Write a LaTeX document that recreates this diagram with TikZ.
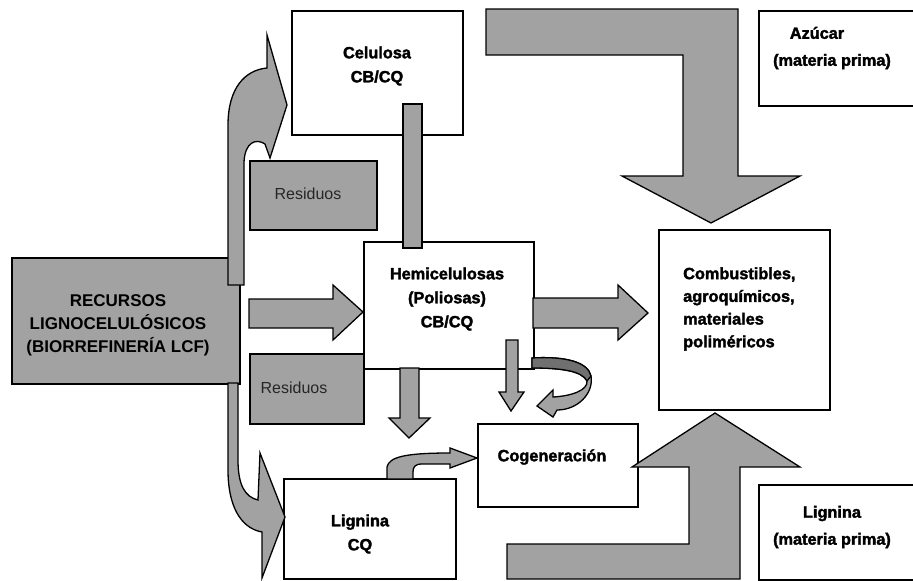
\documentclass[tikz,border=0pt]{standalone}
\usepackage{fontspec}
\setmainfont{Liberation Sans}
\newfontfamily\heavyfont[FakeBold=2]{Liberation Sans Bold}
\definecolor{fillgray}{RGB}{162,162,162}
\definecolor{shadegray}{RGB}{112,112,112}
\begin{document}
\begin{tikzpicture}[x=1pt,y=-1pt,
  box/.style={draw=black, line width=1.6pt, fill=white, inner sep=0pt, anchor=north west},
  graybox/.style={box, fill=fillgray},
  blockarrow/.style={draw=black, line width=1.3pt, fill=fillgray, line join=miter},
  heavy/.style={font=\fontsize{16.3}{24}\selectfont\heavyfont, align=center, inner sep=0pt},
  plain/.style={font=\fontsize{16}{20}\selectfont, text=black!85, inner sep=0pt}]

\useasboundingbox (0,0) rectangle (913,581);
\clip (0,0) rectangle (913,581);

% ---------- boxes ----------
\node[box, minimum width=171pt, minimum height=124pt] (cel) at (291,10) {};
\node[box, minimum width=170pt, minimum height=127pt] (hemi) at (363,241) {};
\node[box, minimum width=172pt, minimum height=100pt] (lig) at (283,478) {};
\node[box, minimum width=160pt, minimum height=83pt] (cogen) at (477,423) {};
\node[box, minimum width=171pt, minimum height=180pt] (prod) at (658,229) {};
\node[box, minimum width=170pt, minimum height=95pt] (azu) at (758,10) {};
\node[box, minimum width=170pt, minimum height=95pt] (ligmp) at (758,484) {};
\node[graybox, minimum width=228pt, minimum height=126pt] (rec) at (11,257) {};

% ---------- curved arrows leaving the resources box ----------
\path[blockarrow] (228,285) -- (228,125)
  .. controls (228,88) and (245,70) .. (267,68) -- (267,35) -- (287,105) -- (270,158)
  -- (265,144) .. controls (256,138) and (245,142) .. (244,162) -- (244,285) -- cycle;
\path[blockarrow] (228,383) -- (228,470)
  .. controls (228,505) and (240,528) .. (262,532) -- (262,578) -- (285,517) -- (260,453)
  -- (258,500) .. controls (245,497) and (238,485) .. (238,460) -- (238,383) -- cycle;

\node[graybox, minimum width=127pt, minimum height=69pt] (res1) at (249,160) {};
\node[graybox, minimum width=114pt, minimum height=70pt] (res2) at (249,353) {};

% ---------- straight block arrows ----------
\path[blockarrow] (403,104) rectangle (422,248);
\path[blockarrow] (249,299) -- (333,299) -- (333,285) -- (363,312) -- (333,340)
  -- (333,328) -- (249,328) -- cycle;
\path[blockarrow] (533,298) -- (618,298) -- (618,285) -- (648,313) -- (618,340)
  -- (618,328) -- (533,328) -- cycle;
\path[blockarrow] (400,368) -- (419,368) -- (419,418) -- (430,418) -- (409,438)
  -- (389,418) -- (400,418) -- cycle;
\path[blockarrow] (506,340) -- (518,340) -- (518,392) -- (524,392) -- (511,411)
  -- (499,392) -- (506,392) -- cycle;

% ---------- curved arrow turning back under the hemicellulose box ----------
\path[blockarrow] (532,358) .. controls (565,356) and (588,362) .. (591,376)
  .. controls (594,393) and (578,410) .. (557,410) -- (553,417) -- (537,406) -- (553,390)
  -- (553,397) .. controls (572,396) and (588,390) .. (587,381)
  .. controls (582,371) and (562,368) .. (532,368) -- cycle;
\path[blockarrow, fill=shadegray] (532,358) .. controls (565,356) and (588,362) .. (591,376)
  -- (587,381) .. controls (582,371) and (562,368) .. (532,368) -- cycle;

% ---------- curved arrow from lignin to cogeneration ----------
\path[blockarrow] (387,479) -- (387,467) .. controls (389,457) and (405,453) .. (450,453)
  -- (450,448) -- (477,458) -- (450,468) -- (450,464) -- (422,464)
  .. controls (415,464) and (413,467) .. (413,472) -- (413,479) -- cycle;

% ---------- large L-shaped arrows ----------
\path[blockarrow] (486,9) -- (738,9) -- (738,176) -- (800,176) -- (711,223) -- (622,176)
  -- (683,176) -- (683,55) -- (486,55) -- cycle;
\path[blockarrow] (507,544) -- (689,544) -- (689,467) -- (632,467) -- (715,413)
  -- (800,467) -- (740,467) -- (740,579) -- (507,579) -- cycle;

% ---------- labels ----------
\node[align=center, inner sep=0pt, font=\fontsize{17}{23}\selectfont\bfseries] (trec)
  at (118,325) {RECURSOS\\LIGNOCELULÓSICOS\\(BIORREFINERÍA LCF)};
\node[heavy] (tcel) at (377,66) {Celulosa\\CB/CQ};
\node[plain] (tres1) at (308,194) {Residuos};
\node[plain] (tres2) at (294,388) {Residuos};
\node[heavy] (themi) at (447,299) {Hemicelulosas\\(Poliosas)\\CB/CQ};
\node[heavy] (tlig) at (360,534) {Lignina\\CQ};
\node[heavy] (tcogen) at (552,457) {Cogeneración};
\node[heavy, align=left, anchor=west, font=\fontsize{16.3}{22.7}\selectfont\heavyfont] (tprod)
  at (683,309) {Combustibles,\\agroquímicos,\\materiales\\poliméricos};
\node[heavy, font=\fontsize{16.3}{27}\selectfont\heavyfont] (tazu) at (832,48)
  {\hspace*{-30pt}Azúcar\\(materia prima)};
\node[heavy, font=\fontsize{16.3}{27}\selectfont\heavyfont] (tligmp) at (832,527)
  {Lignina\\(materia prima)};
\end{tikzpicture}
\end{document}
